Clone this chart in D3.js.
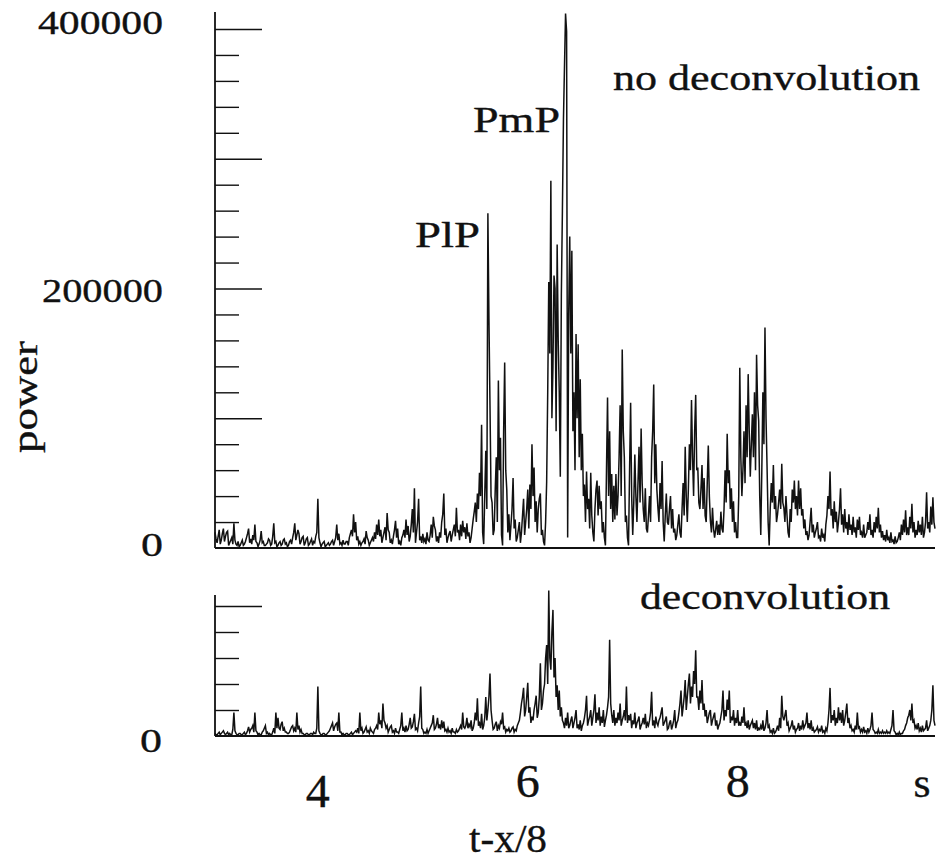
<!DOCTYPE html>
<html>
<head>
<meta charset="utf-8">
<script src="https://cdn.jsdelivr.net/npm/d3@7"></script>
<style>
  body { margin: 0; background: #fff; }
  svg { display: block; }
  text { font-family: "Liberation Serif", "Times New Roman", Times, serif; fill: #111; stroke: #111; stroke-width: 0.35; }
  .axis path, .axis line { stroke: #111; }
</style>
</head>
<body>
<div id="chart"></div>
<script>
// samples every 0.01 s, starting at t = 3.02 s; power in thousands
const tStart = 3.02;
const tStep = 0.01;

const noDeconvolution = [
  12,7,4,9,14,3,6,11,15,5,9,12,13,2,4,6,8,3,19,6,
  3,2,5,1,2,4,6,2,3,5,8,11,15,4,7,3,10,6,18,5,
  4,1,3,6,13,4,5,2,2,3,4,7,6,2,3,9,19,4,5,1,
  2,4,5,2,3,6,7,3,4,1,2,5,6,3,8,12,19,6,10,14,
  11,3,5,8,9,2,4,7,8,2,3,5,7,2,5,4,9,12,38,8,
  4,1,3,4,5,1,2,3,4,2,3,5,6,2,5,8,18,6,11,3,
  4,2,6,3,3,5,5,2,8,11,14,9,26,12,20,6,9,3,5,2,
  4,5,7,3,13,8,6,2,4,6,8,5,12,7,18,10,22,9,14,4,
  8,12,16,6,27,14,12,4,6,3,9,14,21,8,15,3,5,2,8,10,
  14,8,22,10,17,5,9,18,30,12,46,4,12,20,38,6,9,4,11,5,
  7,3,12,6,5,10,18,8,24,17,14,5,9,4,12,8,20,26,42,10,
  15,4,8,11,13,5,10,14,18,9,31,12,14,6,18,9,21,12,16,7,
  19,9,12,4,8,15,22,28,35,20,42,30,58,40,95,12,3,40,75,30,
  258,177,110,40,35,10,14,45,70,20,129,60,85,10,2,90,143,60,45,12,
  26,6,18,30,54,15,22,5,8,14,20,4,12,25,38,10,20,30,45,15,
  49,30,80,40,62,20,36,12,30,38,42,10,14,5,2,20,51,120,205,150,
  283,100,140,210,200,90,234,160,120,55,196,260,330,372,412,398,8,180,240,150,
  229,90,120,60,165,100,157,70,130,60,88,40,49,20,59,30,38,15,58,25,
  12,5,30,45,52,25,48,30,36,12,20,8,2,60,116,40,90,30,57,20,
  48,22,57,25,40,70,110,40,153,90,70,20,25,8,2,60,112,40,10,35,
  72,40,20,50,78,35,92,50,30,20,46,15,12,25,40,20,70,90,126,50,
  80,45,31,20,50,30,67,20,5,25,42,20,18,30,40,15,30,12,15,6,
  10,18,26,12,8,30,50,25,78,40,20,45,80,60,114,70,40,90,118,60,
  62,35,30,45,64,30,54,25,20,50,79,40,21,12,31,15,8,14,21,10,
  18,10,28,15,12,30,60,35,88,50,60,30,46,20,36,12,20,8,8,40,
  139,70,40,60,90,50,110,70,134,90,55,80,103,70,120,60,149,110,98,40,
  10,60,120,80,170,100,62,20,2,30,50,35,64,30,40,20,26,35,45,30,
  65,35,31,20,40,25,12,8,30,20,45,35,52,30,40,25,52,30,46,25,
  30,15,22,10,13,6,10,20,31,12,18,8,12,15,20,8,9,5,15,8,
  10,5,18,25,40,30,59,25,30,15,36,20,28,12,20,30,46,18,26,12,
  30,15,20,10,26,14,18,10,24,12,16,8,22,14,24,10,12,8,18,8,
  10,12,20,14,26,10,14,8,20,12,24,15,31,12,18,8,13,6,10,5,
  14,6,8,4,12,5,6,3,9,4,5,8,12,6,18,10,22,12,29,10,
  16,10,24,15,34,12,20,8,14,10,21,12,18,10,24,8,12,20,43,15,
  20,12,32,18,39,20,15
];

const deconvolution = [
  2,1,1,2,3,1,2,3,4,2,1,2,3,1,2,1,1,5,18,4,
  2,1,1,2,2,1,1,2,3,1,2,4,7,3,5,6,8,3,18,4,
  3,1,2,1,1,3,4,6,8,2,3,1,2,1,1,3,6,2,18,6,
  14,6,5,9,11,4,6,3,3,2,2,3,5,7,8,4,6,3,18,5,
  8,3,5,2,2,1,1,2,2,1,1,2,2,1,3,2,2,6,38,4,
  2,1,1,2,2,1,1,2,3,4,6,8,10,4,7,9,10,4,18,3,
  3,1,2,1,1,2,2,1,1,2,3,1,2,3,4,3,6,2,18,4,
  6,2,3,5,7,3,4,2,6,4,3,2,5,6,8,5,18,9,12,6,
  25,12,10,6,8,3,5,7,8,3,4,2,6,3,3,2,5,8,18,4,
  6,3,8,4,5,9,14,6,7,11,17,5,6,4,10,15,38,6,5,2,
  3,2,5,2,4,6,8,10,16,5,6,9,14,6,9,5,12,6,11,4,
  5,3,6,3,4,2,6,3,3,2,5,3,4,6,8,5,18,7,6,8,
  14,6,9,7,12,4,6,10,18,12,29,8,10,6,17,5,8,14,30,12,
  20,30,48,20,12,5,6,9,11,4,8,6,11,9,18,6,7,3,5,4,
  6,3,4,6,7,3,5,4,8,10,12,18,25,30,37,15,20,30,41,18,
  22,10,15,12,20,25,31,14,18,30,56,20,25,35,40,60,70,40,112,60,
  51,80,97,45,60,30,39,20,35,15,22,12,10,6,14,8,18,6,8,12,
  15,6,10,14,20,6,9,5,12,4,8,10,14,20,31,8,12,15,20,8,
  14,20,32,10,18,12,22,8,15,10,20,7,12,16,22,30,74,25,16,10,
  20,8,14,10,18,12,25,8,12,15,20,12,38,10,16,12,17,6,12,9,
  18,6,10,12,15,5,8,10,14,9,17,6,10,8,12,18,34,8,12,6,
  15,10,8,12,14,18,22,8,10,12,15,5,6,10,12,5,8,12,20,6,
  10,12,18,25,35,15,22,30,43,20,30,40,48,25,38,30,50,40,66,30,
  30,20,35,25,43,20,25,15,20,10,14,18,20,8,12,15,18,8,12,5,
  8,10,15,20,35,12,20,15,28,20,35,10,15,12,20,8,14,10,20,8,
  10,8,15,10,22,8,10,6,12,5,8,10,12,6,10,5,12,4,6,5,
  8,5,12,4,6,10,20,6,8,3,4,2,6,2,3,5,8,4,14,6,
  31,15,12,16,20,8,10,4,6,8,12,5,8,3,5,6,10,4,8,5,
  12,6,8,10,18,6,10,5,12,4,6,3,4,5,7,3,5,4,8,3,
  4,2,6,4,10,20,37,10,16,12,20,8,14,10,22,12,18,10,20,8,
  12,18,25,10,14,6,8,4,5,3,8,5,18,6,7,3,5,3,7,3,
  4,2,6,3,5,8,18,5,4,2,3,2,5,2,3,2,4,2,3,2,
  4,2,3,2,5,8,20,4,3,1,2,1,3,1,2,2,4,5,8,10,
  14,16,20,12,25,10,12,6,8,5,10,4,6,3,8,4,5,6,12,4,
  6,8,12,20,39,12,8
];

const xTickValues = [4, 6, 8];
const xTickLabels = ["4", "6", "8"];
const topTickValues = [0, 200, 400];
const topTickLabels = ["0", "200000", "400000"];
const bottomTickValues = [0];
const bottomTickLabels = ["0"];

const width = 939, height = 867;

const svg = d3.select("#chart")
  .append("svg")
  .attr("width", width)
  .attr("height", height);

const x = d3.scaleLinear().domain([3.02, 9.88]).range([215, 935]);
const yTop = d3.scaleLinear().domain([0, 400]).range([548, 29]);
const yBot = d3.scaleLinear().domain([0, 100]).range([736, 606]);

// axis line + inward ticks, short every 20000, long every 100000
function drawAxis(y, top, maxVal) {
  const minor = d3.range(20, maxVal + 1, 20).filter(v => v % 100 !== 0);
  const major = d3.range(100, maxVal + 1, 100);
  svg.append("g")
    .attr("class", "axis")
    .attr("transform", "translate(215,0)")
    .call(d3.axisRight(y).tickValues(minor).tickSize(24).tickFormat(""))
    .call(g => g.select(".domain").remove())
    .selectAll("line").attr("stroke-width", 1.4);
  svg.append("g")
    .attr("class", "axis")
    .attr("transform", "translate(215,0)")
    .call(d3.axisRight(y).tickValues(major).tickSize(47).tickFormat(""))
    .call(g => g.select(".domain").remove())
    .selectAll("line").attr("stroke-width", 1.6);
  svg.append("line")
    .attr("x1", 215).attr("x2", 215)
    .attr("y1", top).attr("y2", y(0))
    .attr("stroke", "#111").attr("stroke-width", 1.8);
  svg.append("line")
    .attr("x1", 215).attr("x2", 935)
    .attr("y1", y(0)).attr("y2", y(0))
    .attr("stroke", "#111").attr("stroke-width", 1.8);
}

drawAxis(yTop, 12, 400);
drawAxis(yBot, 595, 100);

function trace(data, y) {
  const line = d3.line()
    .x((d, i) => x(tStart + i * tStep))
    .y(d => y(d));
  svg.append("path")
    .datum(data)
    .attr("d", line)
    .attr("fill", "none")
    .attr("stroke", "#111")
    .attr("stroke-width", 1.5);
}

trace(noDeconvolution, yTop);
trace(deconvolution, yBot);

// stretched text helper (the scanned lettering is wide)
function label(txt, px, py, size, len, anchor) {
  return svg.append("text")
    .attr("x", px).attr("y", py)
    .attr("font-size", size)
    .attr("text-anchor", anchor || "start")
    .attr("dominant-baseline", "central")
    .attr("textLength", len)
    .attr("lengthAdjust", "spacingAndGlyphs")
    .text(txt);
}

// y tick labels
const topLabelLen = { "0": 22, "200000": 121, "400000": 125 };
const topLabelShift = { "0": -4, "200000": 2, "400000": -7 };
topTickValues.forEach((v, i) => {
  const t = topTickLabels[i];
  label(t, 163 - topLabelLen[t], yTop(v) + topLabelShift[t], 34, topLabelLen[t]);
});
bottomTickValues.forEach((v, i) => {
  label(bottomTickLabels[i], 140, yBot(v) + 4, 34, 22);
});

// x tick labels (the "4" sits a little lower in the scan)
xTickValues.forEach((v, i) => {
  label(xTickLabels[i], x(v), v === 4 ? 791 : 781, 46, 24, "middle");
});
label("s", 922, 783, 40, 17, "middle");

label("t-x/8", 508, 838, 40, 78, "middle");

svg.append("text")
  .attr("transform", "translate(25,397) rotate(-90)")
  .attr("font-size", 36)
  .attr("text-anchor", "middle")
  .attr("dominant-baseline", "central")
  .attr("textLength", 112)
  .attr("lengthAdjust", "spacingAndGlyphs")
  .text("power");

label("no deconvolution", 613, 78, 36, 307);
label("PmP", 473, 120, 36, 87);
label("PlP", 415, 235, 36, 65);
label("deconvolution", 640, 597, 36, 250);
</script>
</body>
</html>
